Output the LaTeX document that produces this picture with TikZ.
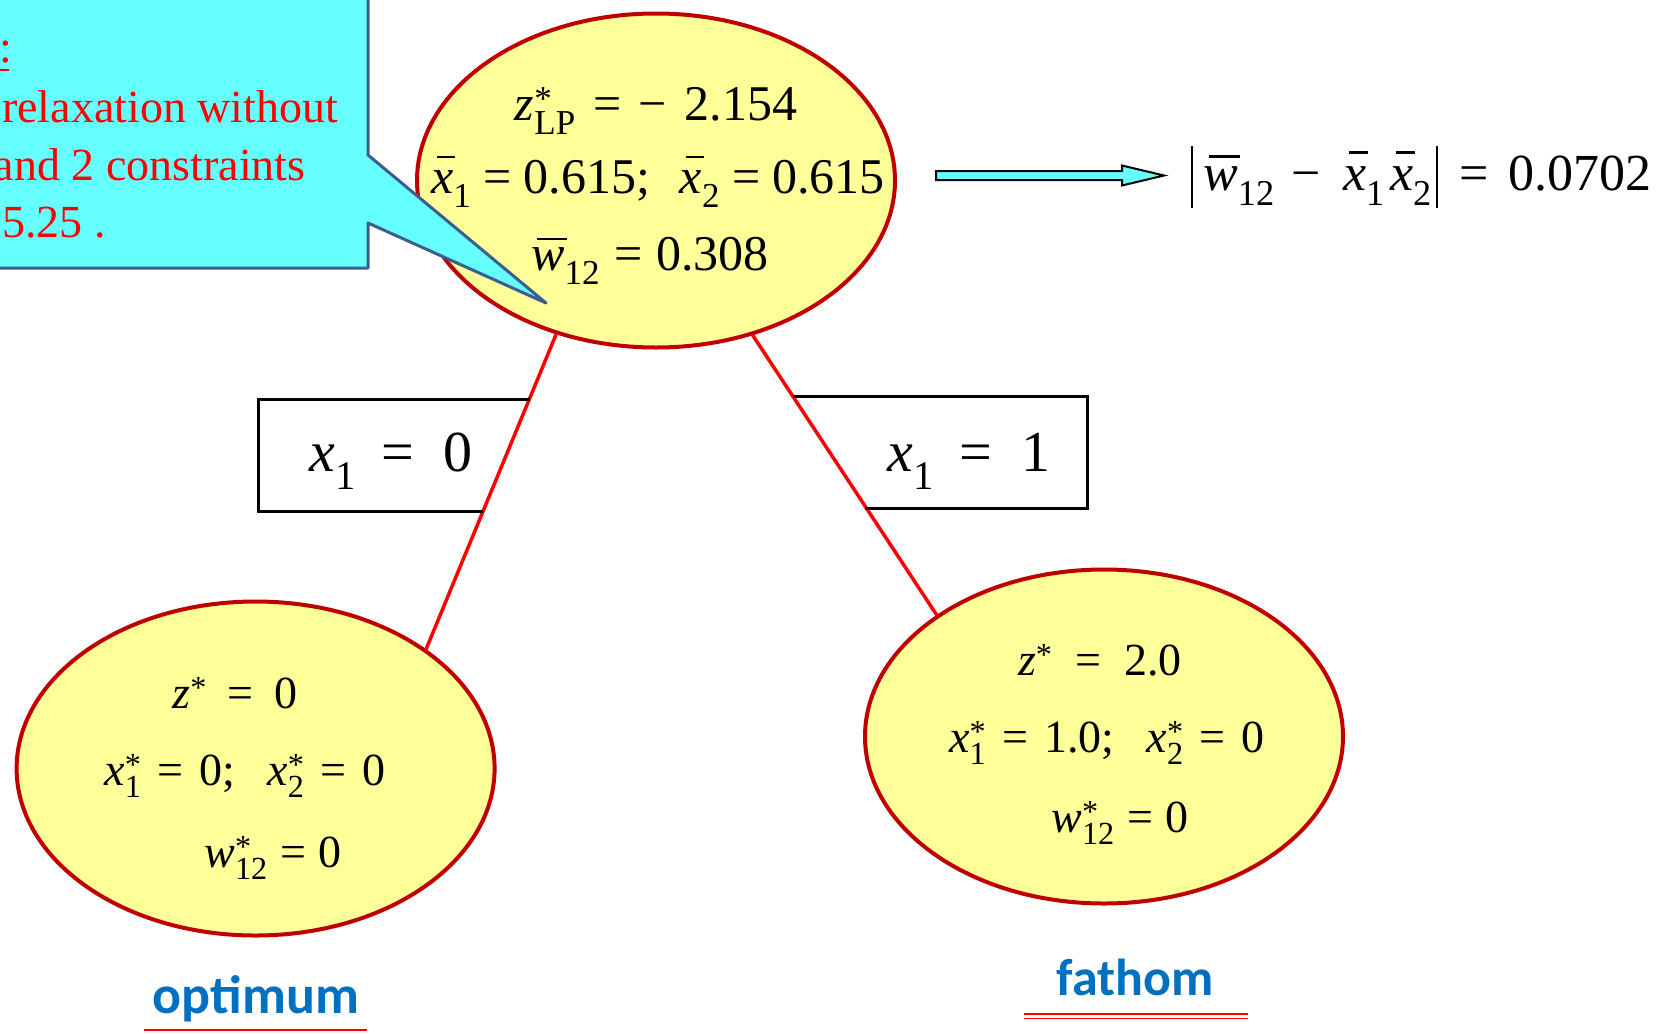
\documentclass[tikz,border=0pt]{standalone}
\usepackage{fontspec}
\setmainfont{Liberation Serif}
\newfontfamily\labfont{Carlito}
\usetikzlibrary{shapes.geometric,calc}
\definecolor{ellfill}{HTML}{FFFF99}
\definecolor{elldraw}{HTML}{C00000}
\definecolor{callfill}{HTML}{66FFFF}
\definecolor{calldraw}{HTML}{3B5E91}
\definecolor{labblue}{HTML}{0070C0}
\newcommand\ovl[2][0.7em]{\setbox0\hbox{\itshape #2}\rlap{\hspace{0.12em}\raisebox{#1}{\rule{\dimexpr\wd0-0.08em\relax}{0.045em}}}\box0}
\newcommand\iv[1]{\textit{#1}}
\newcommand\sbs[1]{\textsubscript{#1}}
\newcommand\sps[1]{\rlap{\textsuperscript{#1}}}
\newcommand\hs[1]{\hspace{#1em}}
\tikzset{
  ell/.style={ellipse, draw=elldraw, fill=ellfill, line width=4pt,
    minimum width=478, minimum height=334, inner sep=0},
  eqbig/.style={anchor=base, inner sep=0, font=\fontsize{50}{60}\selectfont},
  eqsm/.style={anchor=base, inner sep=0, font=\fontsize{46}{55}\selectfont},
  eqlab/.style={anchor=base, inner sep=0, font=\fontsize{58}{68}\selectfont},
  branch/.style={draw=red, line width=3.5pt},
  lbox/.style={draw=black, line width=3pt},
  calltxt/.style={anchor=base west, inner sep=0, text=red, font=\fontsize{46}{55}\selectfont},
  tag/.style={anchor=base, inner sep=0, text=labblue, font=\labfont\bfseries\fontsize{54}{64}\selectfont},
  redline/.style={draw=red, line width=2pt},
}
\begin{document}
\begin{tikzpicture}[x=1pt,y=-1pt]
\useasboundingbox[fill=white] (0,0) rectangle (1656,1033);
% ellipses
\node[ell] (top) at (656,180.5) {};
\node[ell] (left) at (255.6,768.5) {};
\node[ell] (right) at (1104,736.5) {};
% branches
\draw[branch] (top.237.6) -- (left.35.7);
\draw[branch] (top.302.1) -- (right.144.6);
% branch label boxes (cut by branches)
\draw[lbox] (530.4,399) -- (258,399) -- (258,511) -- (483,511);
\draw[lbox] (793,396) -- (1087,396) -- (1087,508) -- (865,508);
\node[eqlab] (b0) at (391,471) {\iv{x}\sbs{1}\hs{0.45}=\hs{0.5}0};
\node[eqlab] (b1) at (969,471) {\iv{x}\sbs{1}\hs{0.45}=\hs{0.5}1};
% top ellipse text
\node[eqbig] (t1) at (656,120) {\iv{z}\sps{*}\sbs{LP}\hs{0.35}=\hs{0.35}−\hs{0.35}2.154};
\node[eqbig] (t2) at (658,193) {\ovl{x}\sbs{1}\hs{0.24}=\hs{0.24}0.615;\hs{0.6}\ovl{x}\sbs{2}\hs{0.24}=\hs{0.24}0.615};
\node[eqbig] (t3) at (650,270) {\ovl[0.6em]{w}\sbs{12}\hs{0.28}=\hs{0.28}0.308};
% left ellipse text
\node[eqsm] (l1) at (235,708) {\iv{z}\textsuperscript{*}\hs{0.45}=\hs{0.45}0};
\node[eqsm] (l2) at (245,785) {\iv{x}\sps{*}\sbs{1}\hs{0.35}=\hs{0.35}0;\hs{0.7}\iv{x}\sps{*}\sbs{2}\hs{0.35}=\hs{0.35}0};
\node[eqsm] (l3) at (273,867) {\iv{w}\sps{*}\sbs{12}\hs{0.27}=\hs{0.27}0};
% right ellipse text
\node[eqsm] (r1) at (1100,675) {\iv{z}\textsuperscript{*}\hs{0.5}=\hs{0.5}2.0};
\node[eqsm] (r2) at (1107,752) {\iv{x}\sps{*}\sbs{1}\hs{0.35}=\hs{0.35}1.0;\hs{0.7}\iv{x}\sps{*}\sbs{2}\hs{0.35}=\hs{0.35}0};
\node[eqsm] (r3) at (1120,832) {\iv{w}\sps{*}\sbs{12}\hs{0.27}=\hs{0.27}0};
% callout
\draw[fill=callfill, draw=calldraw, line width=3pt, line join=round]
  (-10,-10) -- (368,-10) -- (368,155) -- (546,303) -- (368,223) -- (368,268) -- (-10,268) -- cycle;
\node[calltxt] (c0) at (-1,63) {:};
\draw[redline, line width=2.5pt] (-5,70) -- (9,70);
\node[calltxt] (c1) at (2,122) {relaxation without};
\node[calltxt] (c2) at (-6.4,180) {and 2 constraints};
\node[calltxt] (c3) at (2,237) {5.25 .};
% arrow to gap formula
\coordinate (aS) at (936,175.5);
\coordinate (aE) at (1164,175.5);
\draw[fill=callfill, draw=black, line width=2pt, line join=miter]
  ($(aS)+(0,-4.5)$) -- (1122,171) -- (1122,165.5) -- (aE) -- (1122,185.5) -- (1122,180) -- ($(aS)+(0,4.5)$) -- cycle;
\node[eqbig, anchor=base west, font=\fontsize{52}{62}\selectfont] (gap) at (1191,190) {\rule[-18pt]{1.6pt}{62pt}\hs{0.2}\ovl[0.62em]{w}\sbs{12}\hs{0.33}−\hs{0.42}\ovl{x}\sbs{1}\hs{0.1}\ovl{x}\sbs{2}\hs{0.08}\rule[-18pt]{1.6pt}{62pt}\hs{0.42}=\hs{0.38}0.0702};
% tags
\node[tag] (opt) at (256,1013) {optimum};
\draw[redline] (144,1030) -- (367,1030);
\node[tag, font=\labfont\bfseries\fontsize{52}{62}\selectfont] (fat) at (1135,995) {fathom};
\draw[redline, line width=1.7pt] (1024,1014) -- (1248,1014);
\draw[redline, line width=1.7pt] (1024,1018.5) -- (1248,1018.5);
\end{tikzpicture}
\end{document}
